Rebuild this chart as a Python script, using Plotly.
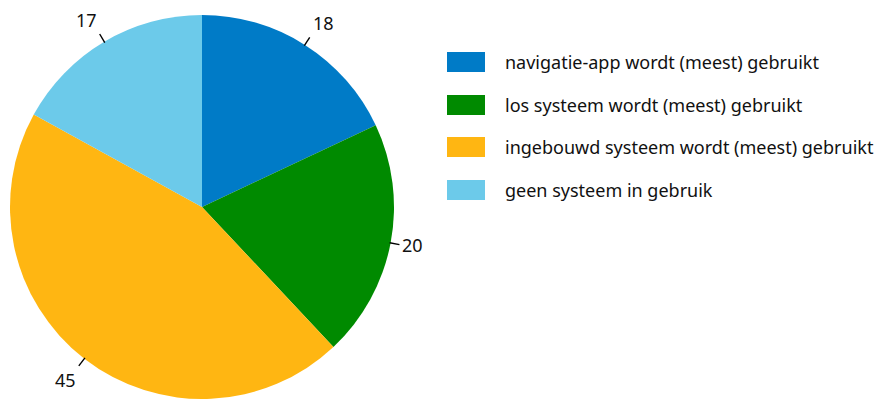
import math
import plotly.graph_objects as go

# Share of drivers by navigation system use
categories = [
    "navigatie-app wordt (meest) gebruikt",
    "los systeem wordt (meest) gebruikt",
    "ingebouwd systeem wordt (meest) gebruikt",
    "geen systeem in gebruik",
]
values = [18, 20, 45, 17]
colors = ["#007BC7", "#008A00", "#FFB612", "#6CCAEA"]

W, H = 876, 399
TOP = 15
plot_h = H - TOP
# pie geometry in pixels
cx, cy, R = 202, TOP + plot_h / 2, plot_h / 2

FONT = "Noto Sans"
TXT = "#111111"


def px(x):
    return x / W


def py(y):
    return (H - y) / plot_h


fig = go.Figure(
    go.Pie(
        labels=categories,
        values=values,
        sort=False,
        direction="clockwise",
        rotation=0,
        marker=dict(colors=colors, line=dict(width=0)),
        textinfo="none",
        hoverinfo="label+value",
        domain=dict(x=[px(cx - R), px(cx + R)], y=[0, 1]),
        showlegend=False,
    )
)

shapes = []
annotations = []

# value labels with short leader lines at each slice's mid angle
total = sum(values)
cum = 0
for v in values:
    mid = (cum + v / 2) / total * 2 * math.pi
    cum += v
    s, c = math.sin(mid), math.cos(mid)
    r0, r1 = R - 1, R + 9
    x0, y0 = cx + r0 * s, cy - r0 * c
    x1, y1 = cx + r1 * s, cy - r1 * c
    shapes.append(dict(type="line", xref="paper", yref="paper",
                       x0=px(x0), y0=py(y0), x1=px(x1), y1=py(y1),
                       line=dict(color="#000000", width=1.4)))
    xanchor = "left" if s > 0 else "right"
    if c > 0.5:
        yanchor = "bottom"
    elif c < -0.5:
        yanchor = "top"
    else:
        yanchor = "middle"
    annotations.append(dict(
        x=px(x1), y=py(y1), xref="paper", yref="paper",
        text=str(v), showarrow=False, xanchor=xanchor, yanchor=yanchor,
        xshift=1 if s > 0 else -1,
        font=dict(family=FONT, size=18, color=TXT),
    ))

# legend drawn as colored boxes with labels
leg_x0, leg_x1 = 447, 485
leg_text_x = 503
leg_y = [62, 105, 147, 190]
for cat, col, yc in zip(categories, colors, leg_y):
    shapes.append(dict(type="rect", xref="paper", yref="paper",
                       x0=px(leg_x0), x1=px(leg_x1),
                       y0=py(yc + 10), y1=py(yc - 10),
                       fillcolor=col, line=dict(width=0)))
    annotations.append(dict(
        x=px(leg_text_x), y=py(yc), xref="paper", yref="paper",
        text=cat, showarrow=False, xanchor="left", yanchor="middle",
        font=dict(family=FONT, size=18, color=TXT),
    ))

fig.update_layout(
    width=W, height=H,
    margin=dict(l=0, r=0, t=TOP, b=0),
    paper_bgcolor="white",
    plot_bgcolor="white",
    shapes=shapes,
    annotations=annotations,
)

fig.write_html("out.html")
